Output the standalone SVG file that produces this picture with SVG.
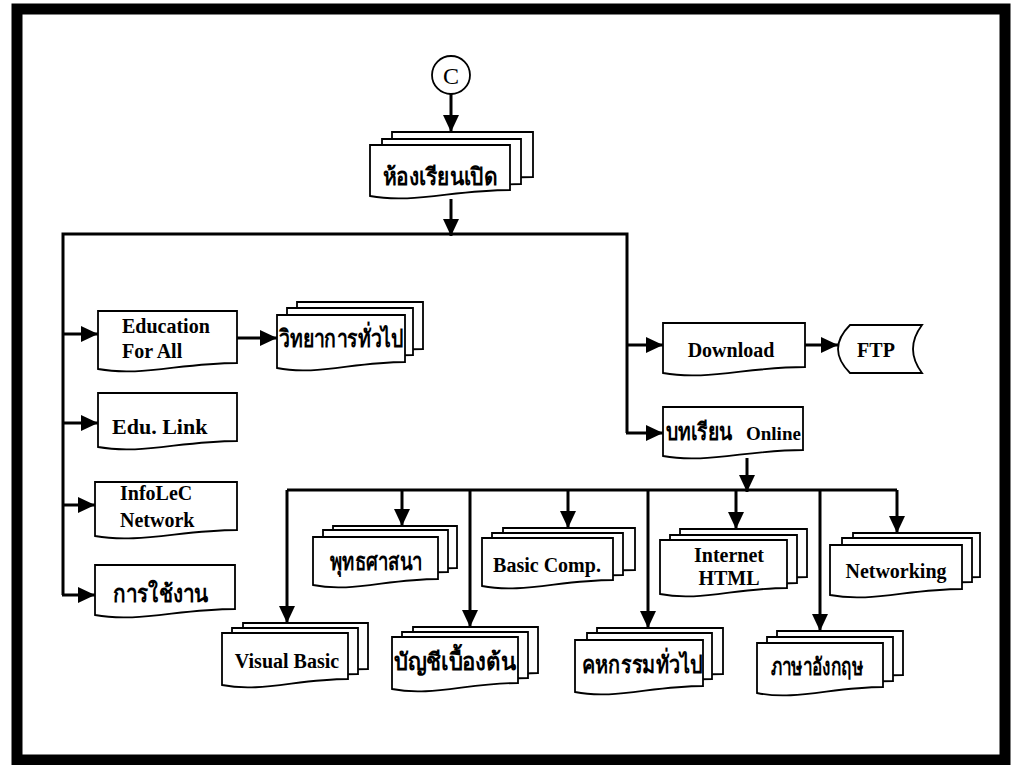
<svg xmlns="http://www.w3.org/2000/svg" width="1022" height="765" viewBox="0 0 1022 765">
<style>
.doc{fill:#fff;stroke:#000;stroke-width:1.8;stroke-linejoin:miter}
.con{fill:none;stroke:#000;stroke-width:3}
.arr{fill:none;stroke:#000;stroke-width:3;marker-end:url(#ah)}
.en{font-family:"Liberation Serif","Times New Roman",serif;font-weight:bold;font-size:20px;fill:#000}
.th{font-family:"Liberation Serif","Noto Sans","DejaVu Sans",serif;font-weight:bold;font-size:24px;fill:#000}
.mid{text-anchor:middle}
</style>
<defs>
<marker id="ah" viewBox="0 0 10 10" refX="10" refY="5" markerWidth="17" markerHeight="16" markerUnits="userSpaceOnUse" orient="auto" preserveAspectRatio="none">
<path d="M0,0 L10,5 L0,10 Z" fill="#000"/>
</marker>
</defs>
<rect x="0" y="0" width="1022" height="765" fill="#fff"/>
<rect id="frame" x="17" y="9" width="988" height="751" fill="none" stroke="#000" stroke-width="11"/>

<g id="connectors">
<path class="arr" d="M451,94 V132"/>
<path class="arr" d="M451,199 V236"/>
<path class="con" d="M63,595 V234 H627 V433"/>
<path class="arr" d="M63,334 H98"/>
<path class="arr" d="M63,423 H98"/>
<path class="arr" d="M63,505 H95"/>
<path class="arr" d="M62,595 H95"/>
<path class="arr" d="M237,338 H277"/>
<path class="arr" d="M627,345 H663"/>
<path class="arr" d="M626,433 H663"/>
<path class="arr" d="M805,345 H838"/>
<path class="arr" d="M747,458 V492"/>
<path class="con" d="M287,490 H897"/>
<path class="arr" d="M287,490 V623"/>
<path class="arr" d="M402,490 V526"/>
<path class="arr" d="M470,490 V627"/>
<path class="arr" d="M568,490 V528"/>
<path class="arr" d="M648,490 V628"/>
<path class="arr" d="M736,490 V529"/>
<path class="arr" d="M820,490 V631"/>
<path class="arr" d="M897,490 V533"/>
</g>

<g id="node-c">
<circle cx="451" cy="75" r="19" fill="#fff" stroke="#000" stroke-width="1.8"/>
<text class="en mid" x="451" y="84" style="font-weight:normal;font-size:24px">C</text>
</g>

<g id="node-hong">
<path class="doc" d="M392,132 H533 V177 C477,177 434,191 392,183 Z"/>
<path class="doc" d="M382,139 H521 V184 C465,184 424,198 382,190 Z"/>
<path class="doc" d="M370,145 H510 V190 C454,190 412,204 370,196 Z"/>
<text class="th mid" x="440" y="185" textLength="115" lengthAdjust="spacingAndGlyphs">ห้องเรียนเปิด</text>
</g>

<g id="node-efa">
<path class="doc" d="M98,311 H237 V363 C181,363 140,377 98,369 Z"/>
<text class="en" x="122" y="333">Education</text>
<text class="en" x="122" y="358">For All</text>
</g>

<g id="node-wittaya">
<path class="doc" d="M297,302 H423 V349 C373,349 335,363 297,355 Z"/>
<path class="doc" d="M287,308 H413 V355 C363,355 325,369 287,361 Z"/>
<path class="doc" d="M277,315 H405 V362 C354,362 315,376 277,368 Z"/>
<text class="th mid" x="341" y="347" textLength="124" lengthAdjust="spacingAndGlyphs">วิทยาการทั่วไป</text>
</g>

<g id="node-edulink">
<path class="doc" d="M98,393 H237 V441 C181,441 140,455 98,447 Z"/>
<text class="en" x="112" y="434" style="font-size:22px">Edu. Link</text>
</g>

<g id="node-infolec">
<path class="doc" d="M95,482 H237 V530 C182,530 138,544 95,536 Z"/>
<text class="en" x="120" y="500">InfoLeC</text>
<text class="en" x="120" y="527">Network</text>
</g>

<g id="node-usage">
<path class="doc" d="M95,565 H235 V609 C179,609 137,623 95,615 Z"/>
<text class="th" x="113" y="602" textLength="95" lengthAdjust="spacingAndGlyphs">การใช้งาน</text>
</g>

<g id="node-download">
<path class="doc" d="M663,323 H805 V367 C748,367 706,381 663,373 Z"/>
<text class="en mid" x="731" y="357">Download</text>
</g>

<g id="node-ftp">
<path class="doc" d="M850,325 H922 Q904,349 922,373 H850 Q826,349 850,325 Z"/>
<text class="en mid" x="876" y="357">FTP</text>
</g>

<g id="node-online">
<path class="doc" d="M663,407 H803 V450 C747,450 705,464 663,456 Z"/>
<text class="th" x="666" y="440" textLength="66" lengthAdjust="spacingAndGlyphs">บทเรียน</text>
<text class="en" x="746" y="440" style="font-size:19px">Online</text>
</g>

<g id="node-buddha">
<path class="doc" d="M333,526 H457 V568 C407,568 370,582 333,574 Z"/>
<path class="doc" d="M323,530 H448 V572 C398,572 360,586 323,578 Z"/>
<path class="doc" d="M313,537 H438 V579 C388,579 350,593 313,585 Z"/>
<text class="th mid" x="376" y="570" textLength="92" lengthAdjust="spacingAndGlyphs">พุทธศาสนา</text>
</g>

<g id="node-basiccomp">
<path class="doc" d="M503,528 H635 V570 C582,570 543,584 503,576 Z"/>
<path class="doc" d="M492,533 H623 V575 C571,575 531,589 492,581 Z"/>
<path class="doc" d="M482,538 H613 V580 C561,580 521,594 482,586 Z"/>
<text class="en mid" x="547" y="572">Basic Comp.</text>
</g>

<g id="node-internet">
<path class="doc" d="M680,529 H807 V577 C756,577 718,591 680,583 Z"/>
<path class="doc" d="M670,535 H797 V583 C746,583 708,597 670,589 Z"/>
<path class="doc" d="M660,540 H787 V588 C736,588 698,602 660,594 Z"/>
<text class="en mid" x="729" y="562">Internet</text>
<text class="en mid" x="729" y="585">HTML</text>
</g>

<g id="node-networking">
<path class="doc" d="M853,533 H980 V577 C929,577 891,591 853,583 Z"/>
<path class="doc" d="M842,538 H972 V582 C920,582 881,596 842,588 Z"/>
<path class="doc" d="M830,545 H962 V589 C909,589 870,603 830,595 Z"/>
<text class="en mid" x="896" y="578">Networking</text>
</g>

<g id="node-vb">
<path class="doc" d="M243,623 H368 V669 C318,669 281,683 243,675 Z"/>
<path class="doc" d="M232,628 H358 V674 C308,674 270,688 232,680 Z"/>
<path class="doc" d="M222,633 H348 V679 C298,679 260,693 222,685 Z"/>
<text class="en mid" x="287" y="668">Visual Basic</text>
</g>

<g id="node-account">
<path class="doc" d="M413,627 H538 V673 C488,673 451,687 413,679 Z"/>
<path class="doc" d="M402,632 H528 V678 C478,678 440,692 402,684 Z"/>
<path class="doc" d="M392,637 H518 V683 C468,683 430,697 392,689 Z"/>
<text class="th mid" x="455" y="670" textLength="122" lengthAdjust="spacingAndGlyphs">บัญชีเบื้องต้น</text>
</g>

<g id="node-home">
<path class="doc" d="M597,628 H723 V674 C673,674 635,688 597,680 Z"/>
<path class="doc" d="M587,633 H712 V679 C662,679 625,693 587,685 Z"/>
<path class="doc" d="M575,640 H703 V686 C652,686 613,700 575,692 Z"/>
<text class="th mid" x="642" y="673" textLength="120" lengthAdjust="spacingAndGlyphs">คหกรรมทั่วไป</text>
</g>

<g id="node-english">
<path class="doc" d="M777,631 H903 V675 C853,675 815,689 777,681 Z"/>
<path class="doc" d="M767,637 H893 V681 C843,681 805,695 767,687 Z"/>
<path class="doc" d="M757,643 H883 V687 C833,687 795,701 757,693 Z"/>
<text class="th mid" x="817" y="675" textLength="93" lengthAdjust="spacingAndGlyphs">ภาษาอังกฤษ</text>
</g>
</svg>
